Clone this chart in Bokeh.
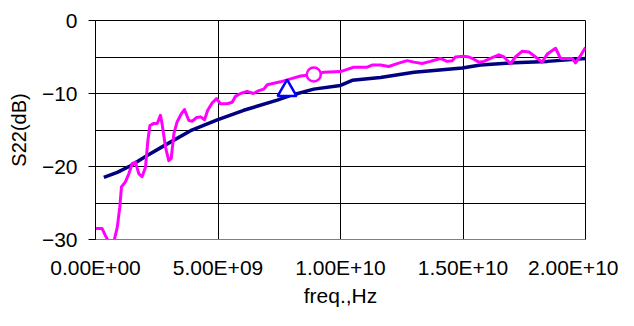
from bokeh.plotting import figure
from bokeh.models import Range1d, FixedTicker
from bokeh.embed import file_html
from bokeh.resources import INLINE
import numpy as np

# ---- data (frequencies in GHz, converted to Hz below) ----
meas_freq_ghz = [0.0, 0.27, 0.41, 0.54, 0.75, 0.89, 0.99, 1.06, 1.22, 1.36, 1.50, 1.63, 1.77, 1.90,
                 2.04, 2.14, 2.22, 2.38, 2.52, 2.65, 2.72, 2.86, 2.99, 3.09, 3.20, 3.33, 3.50,
                 3.63, 3.81, 3.95, 4.12, 4.29, 4.45, 4.58, 4.76, 4.94, 5.10, 5.37, 5.58, 5.71,
                 5.92, 6.19, 6.44, 6.67, 6.87, 7.01, 7.28, 7.55, 7.96, 8.37, 8.91, 9.32, 10.0,
                 10.27, 10.54, 11.09, 11.29, 11.63, 11.97, 12.31, 12.72, 13.0, 13.33, 13.67,
                 14.08, 14.35, 14.56, 14.69, 15.03, 15.24, 15.44, 15.65, 15.85, 16.12, 16.46,
                 16.67, 16.94, 17.14, 17.42, 17.69, 17.96, 18.23, 18.44, 18.78, 18.98, 19.25,
                 19.46, 19.59, 19.80, 20.0]
meas_s22_db = [-28.5, -28.5, -29.5, -30.3, -30.3, -28.3, -25.6, -22.8, -22.1, -21.0, -19.6, -19.4,
               -21.0, -21.4, -20.1, -16.4, -14.4, -14.1, -14.1, -13.0, -14.2, -17.4, -19.2, -18.9,
               -15.5, -13.9, -12.8, -12.2, -13.7, -13.8, -13.3, -13.2, -13.6, -12.3, -11.3, -10.7,
               -11.4, -11.4, -11.2, -10.4, -10.0, -9.7, -10.0, -9.6, -9.4, -8.8, -8.6, -8.4, -8.0,
               -7.6, -7.4, -7.1, -7.0, -6.7, -6.4, -6.4, -6.1, -6.1, -6.3, -5.9, -5.5, -5.7, -5.9,
               -5.6, -5.2, -5.6, -5.5, -5.0, -4.9, -5.0, -5.3, -5.7, -5.6, -5.2, -4.7, -5.0, -5.9,
               -5.0, -4.2, -4.3, -5.0, -5.7, -4.6, -3.8, -5.2, -5.2, -5.2, -5.8, -4.8, -3.7]

sim_freq_ghz = [0.34, 0.89, 1.43, 2.11, 2.93, 3.88, 4.97, 6.05, 7.42, 8.03, 8.91, 10.0, 10.48,
                11.63, 13.0, 14.97, 15.71, 17.07, 18.44, 20.0]
sim_s22_db = [-21.5, -20.8, -19.9, -18.5, -16.9, -15.1, -13.6, -12.3, -10.9, -10.2, -9.4, -8.9,
              -8.2, -7.8, -7.1, -6.5, -6.1, -5.8, -5.6, -5.2]

triangle_freq_ghz = [7.82]
triangle_s22_db = [-9.6]
circle_freq_ghz = [8.91]
circle_s22_db = [-7.4]

x_ticks = [0, 5e9, 1e10, 1.5e10, 2e10]
x_tick_labels = ["0.00E+00", "5.00E+09", "1.00E+10", "1.50E+10", "2.00E+10"]
y_ticks = [-30, -20, -10, 0]
y_minor = [-25, -15, -5]

GHZ = 1e9
FONT = "Liberation Sans"

p = figure(width=618, height=310, output_backend="svg", toolbar_location=None,
           x_range=Range1d(0, 2e10), y_range=Range1d(-30, 0),
           min_border_left=95, min_border_right=33, min_border_top=20, min_border_bottom=71)
p.background_fill_color = "white"
p.border_fill_color = "white"
p.outline_line_color = "black"
p.outline_line_width = 1

# grids
p.xgrid.ticker = FixedTicker(ticks=x_ticks)
p.ygrid.ticker = FixedTicker(ticks=y_ticks, minor_ticks=y_minor)
for g in (p.xgrid, p.ygrid):
    g.grid_line_color = "black"
    g.grid_line_width = 1
    g.grid_line_alpha = 1
p.ygrid.minor_grid_line_color = "black"
p.ygrid.minor_grid_line_width = 1

# x axis
xa = p.xaxis[0]
xa.ticker = FixedTicker(ticks=x_ticks)
xa.major_label_overrides = dict(zip(x_ticks, x_tick_labels))
xa.major_tick_out = 0
xa.major_tick_in = 0
xa.minor_tick_out = 0
xa.minor_tick_in = 0
xa.axis_line_color = "#808080"
xa.major_label_standoff = 16
xa.major_label_text_font = FONT
xa.major_label_text_font_size = "21px"
xa.major_label_text_color = "black"
xa.axis_label = "freq.,Hz"
xa.axis_label_text_font = FONT
xa.axis_label_text_font_size = "21px"
xa.axis_label_text_font_style = "normal"
xa.axis_label_text_color = "black"
xa.axis_label_standoff = 2

# y axis
ya = p.yaxis[0]
ya.ticker = FixedTicker(ticks=y_ticks)
ya.major_tick_out = 7
ya.major_tick_in = 0
ya.minor_tick_out = 0
ya.minor_tick_in = 0
ya.major_tick_line_color = "black"
ya.axis_line_color = "black"
ya.major_label_standoff = 11
ya.major_label_text_font = FONT
ya.major_label_text_font_size = "21px"
ya.major_label_text_color = "black"
ya.axis_label = "S22(dB)"
ya.axis_label_text_font = FONT
ya.axis_label_text_font_size = "20px"
ya.axis_label_text_font_style = "normal"
ya.axis_label_text_color = "black"
ya.axis_label_standoff = 9

# series
p.line(np.array(sim_freq_ghz) * GHZ, sim_s22_db, line_color="#000080", line_width=3.5)
p.line(np.array(meas_freq_ghz) * GHZ, meas_s22_db, line_color="#FF00FF", line_width=3,
       line_join="round")
p.scatter(np.array(triangle_freq_ghz) * GHZ, triangle_s22_db, marker="triangle", size=19,
          line_color="#0000FF", line_width=2.5, fill_color="white")
p.scatter(np.array(circle_freq_ghz) * GHZ, circle_s22_db, marker="circle", size=14,
          line_color="#FF00FF", line_width=2.5, fill_color="white")

open("out.html", "w").write(file_html(p, INLINE))
